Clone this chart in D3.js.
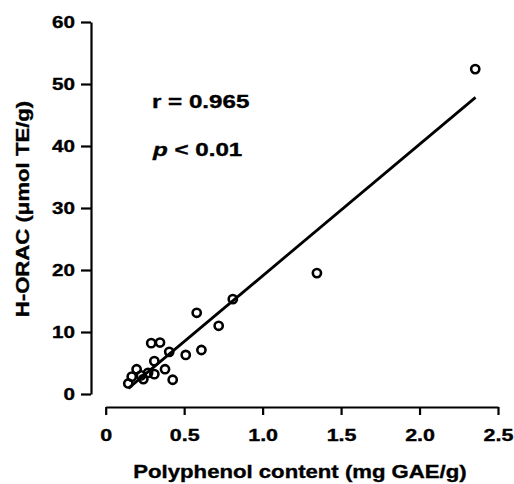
<!DOCTYPE html>
<html lang="en">
<head>
<meta charset="UTF-8">
<title>H-ORAC vs polyphenol content</title>
<style>
  body { margin: 0; background: #fff; }
  text { font-family: "Liberation Sans", Arial, Helvetica, sans-serif; fill: #000; stroke: #000; stroke-width: 0.35px; }
  .axis path, .axis line { stroke: #000; stroke-width: 2.2px; fill: none; }
  .axis text { font-size: 16.5px; font-weight: bold; }
  .title { font-size: 18px; font-weight: bold; }
  .note { font-size: 17.5px; font-weight: bold; }
  .dot { fill: none; stroke: #000; stroke-width: 2.6px; }
  .fit { stroke: #000; stroke-width: 2.8px; fill: none; }
</style>
</head>
<body>
<div id="chart"></div>
<script src="https://d3js.org/d3.v7.min.js"></script>
<script>
// polyphenol content (mg GAE/g) and H-ORAC (umol TE/g)
var polyphenol = [2.355, 1.346, 0.81, 0.58, 0.72, 0.29, 0.346, 0.405, 0.51, 0.61,
                  0.31, 0.378, 0.31, 0.427, 0.197, 0.166, 0.144, 0.24, 0.27, 0.225];
var horac      = [52.4, 19.5, 15.3, 13.1, 11.0, 8.2, 8.3, 6.8, 6.3, 7.1,
                  5.3, 4.0, 3.2, 2.3, 4.0, 2.8, 1.7, 2.4, 3.4, 3.0];
// regression line end points
var fitX = [0.144, 2.357];
var fitY = [0.9, 47.85];
var xTicks = [0, 0.5, 1.0, 1.5, 2.0, 2.5];
var yTicks = [0, 10, 20, 30, 40, 50, 60];

var W = 514, H = 484;
var svg = d3.select("#chart").append("svg")
    .attr("width", W).attr("height", H);

var x = d3.scaleLinear().domain([0, 2.5]).range([105.7, 498]);
var y = d3.scaleLinear().domain([0, 60]).range([394, 22]);

// stretch text horizontally (the original type is quite wide)
function stretch(sel, k) {
  sel.each(function() {
    var n = this.getComputedTextLength();
    d3.select(this).attr("textLength", n * k).attr("lengthAdjust", "spacingAndGlyphs");
  });
}

// y axis, offset to the left of x = 0
var yAxis = svg.append("g").attr("class", "axis")
    .attr("transform", "translate(91,0)")
    .call(d3.axisLeft(y).tickValues(yTicks).tickSize(10).tickPadding(6).tickSizeOuter(0).tickFormat(d3.format("d")));
stretch(yAxis.selectAll("text"), 1.25);

// x axis, offset below y = 0
var xAxis = svg.append("g").attr("class", "axis")
    .attr("transform", "translate(0,407)")
    .call(d3.axisBottom(x).tickValues(xTicks).tickSize(8).tickPadding(14).tickSizeOuter(0)
      .tickFormat(function(d) { return d === 0 ? "0" : d3.format(".1f")(d); }));
stretch(xAxis.selectAll("text"), 1.3);

// regression line
svg.append("path").attr("class", "fit")
    .attr("d", d3.line()(fitX.map(function(d, i) { return [x(d), y(fitY[i])]; })));

// points
svg.append("g").selectAll("circle")
    .data(polyphenol)
    .enter().append("circle")
    .attr("class", "dot")
    .attr("cx", function(d) { return x(d); })
    .attr("cy", function(d, i) { return y(horac[i]); })
    .attr("r", 4.1);

// annotations
var r = svg.append("text").attr("class", "note")
    .attr("x", 152).attr("y", 107.5).text("r = 0.965");
stretch(r, 1.38);
var p = svg.append("text").attr("class", "note").attr("x", 153).attr("y", 156);
p.append("tspan").style("font-style", "italic").text("p");
p.append("tspan").text(" < 0.01");
stretch(p, 1.38);

// axis titles
var xt = svg.append("text").attr("class", "title")
    .attr("x", 300).attr("y", 478).attr("text-anchor", "middle")
    .text("Polyphenol content (mg GAE/g)");
stretch(xt, 1.23);

var yt = svg.append("text").attr("class", "title")
    .attr("transform", "translate(28.5,209) rotate(-90)")
    .attr("text-anchor", "middle")
    .text("H-ORAC (\u03bcmol TE/g)");
stretch(yt, 1.23);
</script>
</body>
</html>
